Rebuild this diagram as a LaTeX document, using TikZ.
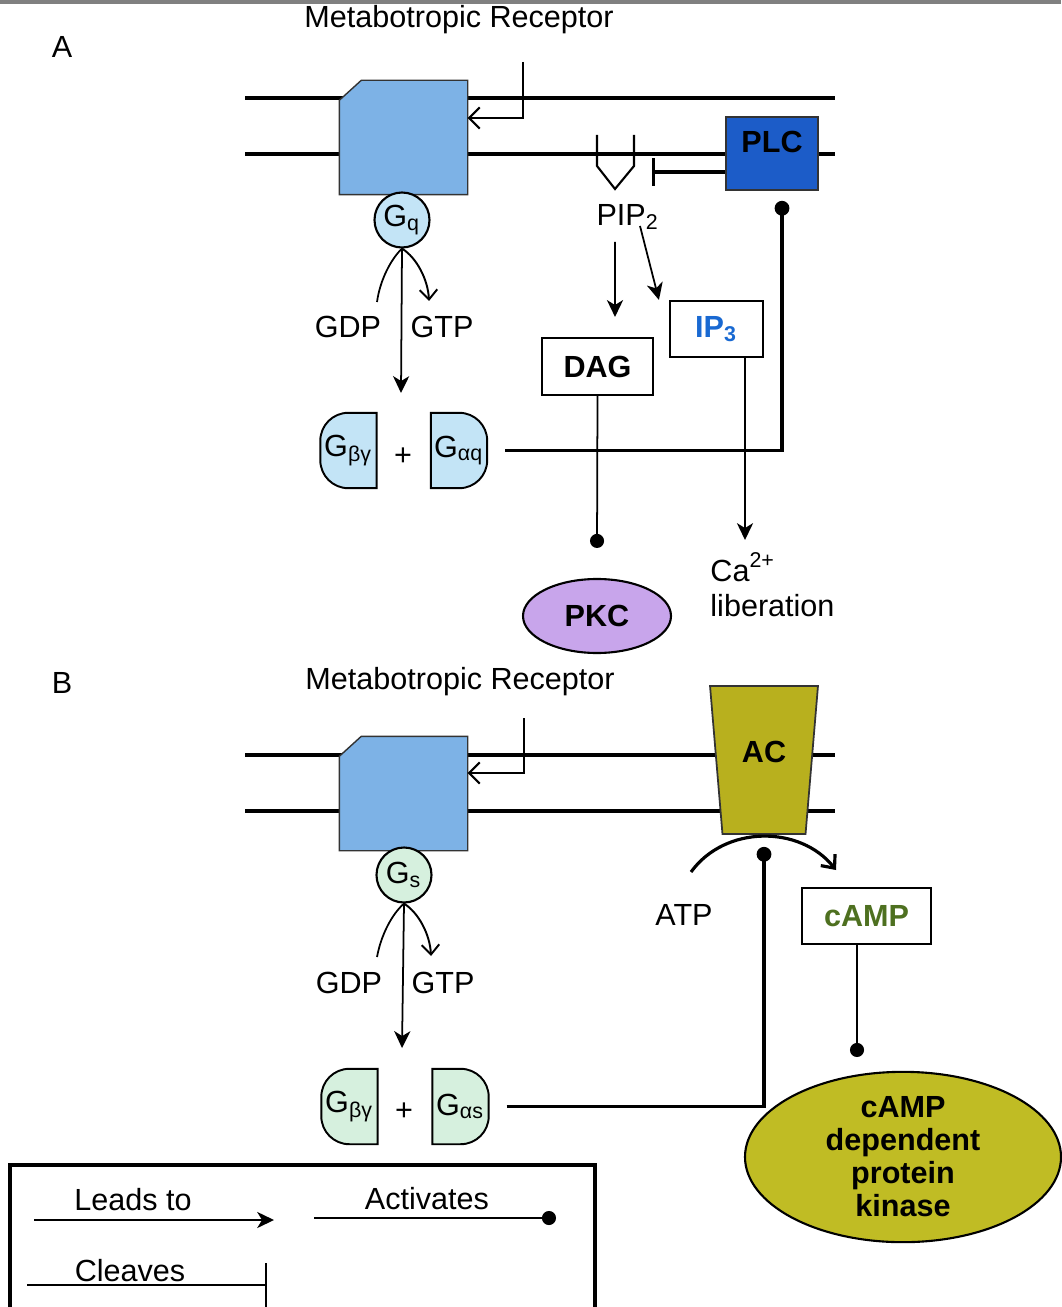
\documentclass[tikz,border=0pt]{standalone}
\usepackage{fontspec}
\setmainfont{Liberation Sans}
\usetikzlibrary{arrows.meta,positioning,shapes.geometric}

\definecolor{rcptblue}{RGB}{125,178,230}
\definecolor{gqblue}{RGB}{195,228,246}
\definecolor{plcblue}{RGB}{28,92,200}
\definecolor{ipblue}{RGB}{25,105,210}
\definecolor{pkcpurple}{RGB}{200,165,235}
\definecolor{acolive}{RGB}{184,176,30}
\definecolor{kinolive}{RGB}{192,188,36}
\definecolor{gsgreen}{RGB}{214,240,222}
\definecolor{campgreen}{RGB}{78,112,32}

\newcommand{\figfont}{\fontsize{8.7}{10.2}\selectfont}
% receptor with its cut corner, drawn round a named node
\newcommand{\rcptshape}[1]{\draw[fill=rcptblue,draw=black!80,line width=0.4pt] ([yshift=-2mm]#1.north west)
 	-- ([xshift=2.2mm]#1.north west) -- (#1.north east) -- (#1.south east) -- (#1.south west) -- cycle}
% half G-protein shapes, drawn round a named node
\newcommand{\halfl}[2]{\draw[fill=#2,line width=0.55pt] (#1.north east) -- ([xshift=2.8mm]#1.north west)
 	arc[start angle=90,end angle=180,radius=2.8mm] -- ([yshift=2.8mm]#1.south west)
 	arc[start angle=180,end angle=270,radius=2.8mm] -- (#1.south east) -- cycle}
\newcommand{\halfr}[2]{\draw[fill=#2,line width=0.55pt] (#1.north west) -- ([xshift=-2.8mm]#1.north east)
 	arc[start angle=90,end angle=0,radius=2.8mm] -- ([yshift=2.8mm]#1.south east)
 	arc[start angle=0,end angle=-90,radius=2.8mm] -- (#1.south west) -- cycle}

\begin{document}
\begin{tikzpicture}[x=0.1mm,y=-0.1mm,
 	every node/.style={font=\figfont},
 	mem/.style={line width=0.9pt},
 	lead/.style={line width=0.5pt,-{Stealth[length=4.8pt,width=4.6pt,inset=1.4pt]}},
 	barb/.style={line width=0.55pt,-{Straight Barb[length=2.8pt,width=5pt]}},
 	ligand/.style={line width=0.6pt,-{Straight Barb[length=3pt,width=6pt]}},
 	act/.style={line width=0.5pt,-{Circle[length=4pt]}},
 	actthick/.style={line width=0.9pt,-{Circle[length=4.2pt]}},
 	rcptbox/.style={rectangle,minimum width=12.7mm,minimum height=11.3mm,inner sep=0pt},
 	gball/.style={circle,draw,line width=0.6pt,minimum size=5.5mm,inner sep=0pt},
 	halfbox/.style={rectangle,minimum width=5.5mm,minimum height=7.4mm,inner sep=0pt},
 	mbox/.style={rectangle,draw,line width=0.6pt,inner sep=0pt,font=\figfont\bfseries}]
\fill[white] (0,0) rectangle (1061,1307);
\useasboundingbox (0,0) rectangle (1061,1307);
\draw[black!50,line width=1.2pt] (0,2) -- (1061,2);
%
% A
\node (hdra) at (62,47) {A};
\node (mra) at (459,20) {Metabotropic Receptor};
\draw[mem] (245,98) -- (835,98);
\draw[mem] (245,154) -- (835,154);
\node[rcptbox] (rcpta) at (403.5,137.5) {};
	\rcptshape{rcpta};
\coordinate (liga) at (523,62);
\draw[ligand] (liga) |- ([yshift=1.95mm]rcpta.east);
\node[gball,fill=gqblue] (gqa) at (402,220) {G\textsubscript{q}};
	\coordinate (gdpa) at (377,302);
	\coordinate (gtpa) at (429,301);
	\coordinate (gqenda) at (401,393);
	\draw[line width=0.5pt] (gqa.south) .. controls (391,259) and (380,280) .. (gdpa);
	\draw[barb] (gqa.south) .. controls (417,258) and (428,280) .. (gtpa);
	\draw[lead] (gqa.south) -- (gqenda);
\node (gdpla) at (348,327) {GDP};
\node (gtpla) at (442,327) {GTP};
\node[halfbox] (gbga) at (348.5,450.5) {};
	\halfl{gbga}{gqblue};
\node (gbgla) at (gbga) {G\textsubscript{βγ}};
\node[halfbox] (gaqa) at (459,450.5) {};
	\halfr{gaqa}{gqblue};
\node (gaqla) at (gaqa) {G\textsubscript{αq}};
\node (plusa) at (403,457) {+};
%
\node[rectangle,draw=black!80,line width=0.5pt,fill=plcblue,minimum width=9.2mm,minimum height=7.3mm,
 	inner sep=0pt,text depth=6.6pt,font=\figfont\bfseries] (plc) at (772,153.5) {PLC};
\draw[line width=0.6pt] (597,135) -- (597,166) -- (615,189) -- (634,166) -- (634,135);
\coordinate (cuta) at (652,172);
\draw[line width=0.9pt,-{Bar[width=2.8mm]}] (plc.west |- cuta) -- (cuta);
\draw[actthick,shorten <=1.8mm] (gaqa.east) -| ([xshift=1mm,yshift=-1mm]plc.south);
%
\node (pipa) at (628,217) {PIP\textsubscript{2}};
\node[mbox,minimum width=11.1mm,minimum height=5.7mm] (dag) at (597.5,366.5) {DAG};
\node[mbox,minimum width=9.3mm,minimum height=5.6mm,text=ipblue] (ip3) at (716.5,329) {IP\textsubscript{3}};
\draw[lead] ([xshift=-1.3mm]pipa.south) -- ([xshift=1.75mm,yshift=2mm]dag.north);
\draw[lead] ([xshift=1.2mm,yshift=1.6mm]pipa.south) -- ([xshift=-1mm]ip3.north west);
\node[ellipse,draw,line width=0.6pt,fill=pkcpurple,minimum width=14.8mm,minimum height=7.4mm,
 	inner sep=0pt,font=\figfont\bfseries] (pkc) at (597,616) {PKC};
\draw[act] (dag.south) -- ([yshift=3mm]pkc.north);
\coordinate (caend) at (745,540);
\draw[lead] (ip3.south -| caend) -- (caend);
\node[align=left,anchor=west] (ca) at (698,585) {Ca\textsuperscript{2+}\\liberation};
%
% B
\node (hdrb) at (62,683) {B};
\node (mrb) at (460,682) {Metabotropic Receptor};
\draw[mem] (245,755) -- (835,755);
\draw[mem] (245,811) -- (835,811);
\node[rcptbox] (rcptb) at (403.5,793.5) {};
	\rcptshape{rcptb};
\coordinate (ligb) at (524,718);
\draw[ligand] (ligb) |- ([yshift=2.05mm]rcptb.east);
\node[gball,fill=gsgreen] (gsb) at (404,875) {G\textsubscript{s}};
	\coordinate (gdpb) at (377,957);
	\coordinate (gtpb) at (431,956);
	\coordinate (gsendb) at (402,1048);
	\draw[line width=0.5pt] (gsb.south) .. controls (392,914) and (381,935) .. (gdpb);
	\draw[barb] (gsb.south) .. controls (419,913) and (430,935) .. (gtpb);
	\draw[lead] (gsb.south) -- (gsendb);
\node (gdplb) at (349,983) {GDP};
\node (gtplb) at (443,983) {GTP};
\node[halfbox] (gbgb) at (349.5,1106.5) {};
	\halfl{gbgb}{gsgreen};
\node (gbglb) at (gbgb) {G\textsubscript{βγ}};
\node[halfbox] (gasb) at (460.5,1106.5) {};
	\halfr{gasb}{gsgreen};
\node (gaslb) at (gasb) {G\textsubscript{αs}};
\node (plusb) at (404,1112) {+};
%
\node[trapezium,shape border rotate=180,trapezium left angle=80,trapezium right angle=80,
 	trapezium stretches=true,minimum width=10.8mm,minimum height=14.8mm,inner sep=0pt,
 	draw=black!80,line width=0.5pt,fill=acolive,text depth=4.6pt,font=\figfont\bfseries] (ac) at (764,760) {AC};
\coordinate (atpin) at (691,872);
\coordinate (campin) at (836,870);
\draw[line width=0.9pt,-{Straight Barb[length=3pt,width=5.2pt]}] (atpin) .. controls (725,825) and (800,825) .. (campin);
\draw[actthick,shorten <=1.8mm] (gasb.east) -| ([yshift=-1.2mm]ac.south);
\node (atp) at (684,915) {ATP};
\node[mbox,minimum width=12.9mm,minimum height=5.6mm,text=campgreen] (camp) at (866.5,916) {cAMP};
\node[ellipse,draw,line width=0.6pt,fill=kinolive,minimum width=31.6mm,minimum height=16.6mm,inner sep=0pt,
 	align=center,font=\fontsize{8.7}{9.4}\selectfont\bfseries] (pka) at (903,1157) {cAMP\\dependent\\protein\\kinase};
\coordinate (pkain) at (857,1057);
\draw[act] (camp.south -| pkain) -- (pkain);
%
% legend
\draw[line width=1pt] (10,1307) -- (10,1165) -- (595,1165) -- (595,1307);
\node (leadl) at (133,1200) {Leads to};
\node (actl) at (427,1199) {Activates};
\node (clvl) at (130,1271) {Cleaves};
	\coordinate (lda) at (34,1220);
	\coordinate (ldb) at (274,1220);
	\coordinate (aca) at (314,1218);
	\coordinate (acz) at (556,1218);
	\coordinate (cva) at (27,1285);
	\coordinate (cvb) at (267,1285);
	\draw[lead] (lda) -- (ldb);
	\draw[act] (aca) -- (acz);
	\draw[line width=0.5pt,-{Bar[width=4.4mm]}] (cva) -- (cvb);
\end{tikzpicture}
\end{document}
